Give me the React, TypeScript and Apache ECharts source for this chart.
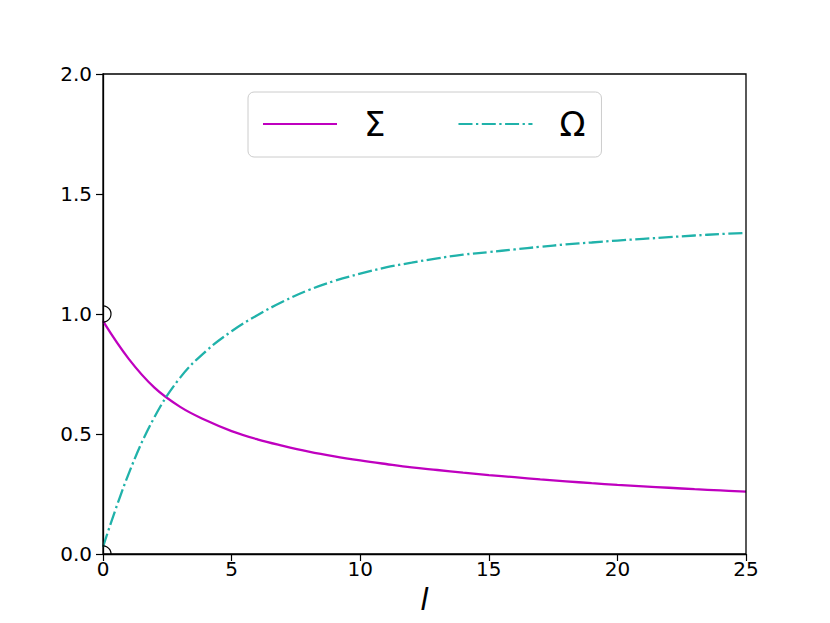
import React, { useEffect, useRef } from "react";
import * as echarts from "echarts";

const xValues = [0, 1, 2, 3, 4, 5, 6, 7, 8, 9, 10, 11, 12, 13, 14, 15, 16, 17, 18, 19, 20, 21, 22, 23, 24, 25];
const sigmaValues = [0.97, 0.813, 0.693, 0.613, 0.557, 0.512, 0.478, 0.451, 0.427, 0.407, 0.39, 0.375, 0.361, 0.35, 0.339, 0.329, 0.32, 0.311, 0.303, 0.295, 0.288, 0.282, 0.276, 0.27, 0.265, 0.26];
const omegaValues = [0.03, 0.335, 0.57, 0.735, 0.845, 0.928, 0.995, 1.052, 1.1, 1.138, 1.168, 1.194, 1.214, 1.232, 1.247, 1.258, 1.269, 1.28, 1.29, 1.298, 1.306, 1.313, 1.32, 1.327, 1.333, 1.338];
const markerPoints = [
  [0, 1],
  [0, 0],
];
const xTicks = [0, 5, 10, 15, 20, 25];
const yTicks = [0, 0.5, 1.0, 1.5, 2.0];

const FONT = "DejaVu Sans";

export default function App() {
  const ref = useRef<HTMLDivElement>(null);
  useEffect(() => {
    if (!ref.current) return;
    const chart = echarts.init(ref.current, null, { renderer: "svg" });
    const sigmaData = xValues.map((x, i) => [x, sigmaValues[i]]);
    const omegaData = xValues.map((x, i) => [x, omegaValues[i]]);
    chart.setOption({
      animation: false,
      backgroundColor: "#ffffff",
      textStyle: { fontFamily: FONT },
      grid: { left: 103, right: 84, top: 74, bottom: 69, containLabel: false, show: false },
      legend: {
        left: 248,
        top: 92,
        padding: [15, 16, 16, 14],
        itemWidth: 74,
        itemHeight: 14,
        itemGap: 72,
        backgroundColor: "#ffffff",
        borderColor: "#cccccc",
        borderWidth: 1,
        borderRadius: 6,
        itemStyle: { opacity: 0 },
        textStyle: { fontSize: 34, color: "#000", fontFamily: FONT, padding: [0, 0, 0, 22] },
        data: [{ name: "Σ" }, { name: "Ω" }],
      },
      xAxis: {
        type: "value",
        min: 0,
        max: 25,
        interval: 5,
        name: "l",
        nameLocation: "middle",
        nameGap: 30,
        nameTextStyle: { fontSize: 30, fontStyle: "italic", color: "#000", fontFamily: FONT },
        axisLine: { show: true, onZero: false, lineStyle: { color: "#000", width: 1.3 } },
        axisTick: { show: true, length: 7, lineStyle: { color: "#000", width: 1.2 } },
        axisLabel: {
          fontSize: 20,
          color: "#000",
          margin: 5,
          fontFamily: FONT,
          formatter: (v: number) => (xTicks.includes(v) ? String(v) : ""),
        },
        splitLine: { show: false },
      },
      yAxis: {
        type: "value",
        min: 0,
        max: 2,
        interval: 0.5,
        axisLine: { show: true, onZero: false, lineStyle: { color: "#000", width: 1.3 } },
        axisTick: { show: true, length: 7, lineStyle: { color: "#000", width: 1.2 } },
        axisLabel: {
          fontSize: 20,
          color: "#000",
          margin: 11,
          fontFamily: FONT,
          formatter: (v: number) => (yTicks.some((t) => Math.abs(t - v) < 1e-9) ? v.toFixed(1) : ""),
        },
        splitLine: { show: false },
      },
      graphic: [
        {
          type: "rect",
          shape: { x: 103, y: 74, width: 643, height: 480 },
          style: { fill: "none", stroke: "#000", lineWidth: 1.3 },
          silent: true,
          z: 10,
        },
      ],
      series: [
        {
          name: "Σ",
          type: "line",
          data: sigmaData,
          smooth: 0.4,
          symbol: "none",
          lineStyle: { color: "#bf00bf", width: 2.3 },
          itemStyle: { color: "#bf00bf" },
          z: 3,
        },
        {
          name: "Ω",
          type: "line",
          data: omegaData,
          smooth: 0.4,
          symbol: "none",
          lineStyle: { color: "#20b2aa", width: 2.3, type: [14, 3.5, 2.3, 3.5] },
          itemStyle: { color: "#20b2aa" },
          z: 3,
        },
        {
          name: "markers",
          type: "custom",
          clip: true,
          data: markerPoints,
          renderItem: (params: any, api: any) => {
            const p = api.coord([api.value(0), api.value(1)]);
            return {
              type: "circle",
              shape: { cx: p[0], cy: p[1], r: 8 },
              style: { fill: "none", stroke: "#000", lineWidth: 1.2 },
            };
          },
          z: 4,
        },
      ],
    });
    return () => chart.dispose();
  }, []);
  return <div ref={ref} style={{ width: 830, height: 623, position: "absolute", left: 0, top: 0 }} />;
}
